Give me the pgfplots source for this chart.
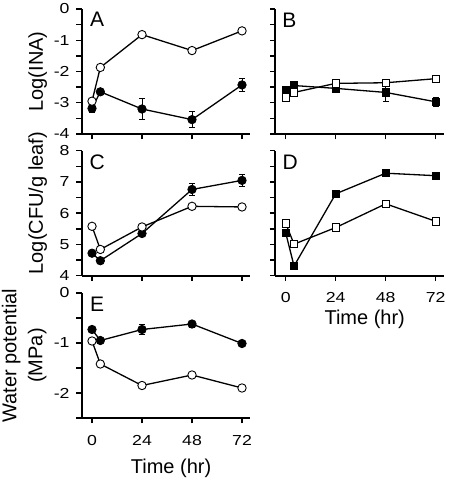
\documentclass[border=0pt]{standalone}
\usepackage{fontspec}
\setmainfont{Liberation Sans}
\newfontfamily\tickfont[FakeStretch=1.22]{Liberation Sans}
\usepackage{pgfplots}
\pgfplotsset{compat=1.18}
\tikzset{letter/.style={font=\fontsize{21}{24}\selectfont, anchor=center}}
\pgfplotsset{
  panel/.style={
    scale only axis, width=168.75pt, height=125pt,
    xmin=-5, xmax=76, enlargelimits=false,
    axis x line*=bottom, axis y line*=left,
    axis line style={line width=1.9pt},
    tick align=outside,
    every tick/.style={line width=1.4pt, black},
    major tick length=5.5pt, minor tick length=5.5pt,
    xtick={0,24,48,72},
    /pgf/number format/assume math mode=true,
    yticklabel style={font=\tickfont\fontsize{14.5}{17}\selectfont, xshift=-3pt},
    xticklabel style={font=\tickfont\fontsize{14.5}{17}\selectfont, yshift=-8pt},
    label style={font=\fontsize{20}{26}\selectfont},
    clip=false,
  },
  filled/.style={black, line width=1.3pt, mark=*, mark size=4.2pt, mark options={fill=black, line width=0.8pt},
    error bars/.cd, y dir=both, y explicit,
    error bar style={line width=0.7pt},
    error mark options={rotate=90, mark size=3pt, line width=0.7pt}},
  opened/.style={black, line width=1.3pt, mark=*, mark size=4.2pt, mark options={fill=white, line width=0.9pt}},
  filledsq/.style={black, line width=1.3pt, mark=square*, mark size=3.7pt, mark options={fill=black, line width=0.8pt},
    error bars/.cd, y dir=both, y explicit,
    error bar style={line width=0.7pt},
    error mark options={rotate=90, mark size=3pt, line width=0.7pt}},
  openedsq/.style={black, line width=1.3pt, mark=square*, mark size=3.7pt, mark options={fill=white, line width=0.9pt}},
}
\begin{document}
\begin{tikzpicture}[x=1pt,y=1pt]
\path[use as bounding box] (0,0) rectangle (449,480);
% A
\begin{axis}[panel, at={(81.6pt,346pt)}, anchor=south west,
  ymin=-4, ymax=0, ytick={-4,-3,-2,-1,0}, minor y tick num=1, xticklabels={},
  ylabel={Log(INA)}, ylabel style={at={(axis description cs:-0.26,0.5)}, anchor=center}]
\addplot[filled] table[x=x,y=y,y error=e] {
x y e
0 -3.18 0.12
4 -2.65 0
24 -3.20 0.33
48 -3.54 0.25
72 -2.43 0.20
};
\addplot[opened] table[x=x,y=y] {
x y
0 -2.95
4 -1.87
24 -0.82
48 -1.33
72 -0.70
};
\node[letter] at (axis description cs:0.092,0.92) {A};
\end{axis}
% B
\begin{axis}[panel, at={(275.3pt,346pt)}, anchor=south west,
  ymin=-4, ymax=0, ytick={-4,-3,-2,-1,0}, minor y tick num=1, xticklabels={}, yticklabels={}]
\addplot[filledsq] table[x=x,y=y,y error=e] {
x y e
0 -2.61 0.08
4 -2.45 0
24 -2.54 0.10
48 -2.67 0.28
72 -2.97 0.15
};
\addplot[openedsq] table[x=x,y=y] {
x y
0 -2.83
4 -2.67
24 -2.38
48 -2.36
72 -2.23
};
\node[letter] at (axis description cs:0.084,0.91) {B};
\end{axis}
% C
\begin{axis}[panel, at={(81.6pt,204.3pt)}, anchor=south west,
  ymin=4, ymax=8, ytick={4,5,6,7,8}, minor y tick num=1, xticklabels={},
  ylabel={Log(CFU/g leaf)}, ylabel style={at={(axis description cs:-0.26,0.58)}, anchor=center}]
\addplot[filled] table[x=x,y=y,y error=e] {
x y e
0 4.72 0
4 4.48 0
24 5.35 0
48 6.76 0.2
72 7.05 0.2
};
\addplot[opened] table[x=x,y=y] {
x y
0 5.58
4 4.84
24 5.56
48 6.22
72 6.20
};
\node[letter] at (axis description cs:0.092,0.905) {C};
\end{axis}
% D
\begin{axis}[panel, at={(275.3pt,204.3pt)}, anchor=south west,
  ymin=4, ymax=8, ytick={4,5,6,7,8}, minor y tick num=1, yticklabels={},
  xlabel={Time (hr)}, xlabel style={at={(axis description cs:0.53,-0.35)}, anchor=center}]
\addplot[filledsq] table[x=x,y=y,y error=e] {
x y e
0 5.37 0
4 4.31 0
24 6.62 0
48 7.28 0
72 7.20 0
};
\addplot[openedsq] table[x=x,y=y] {
x y
0 5.67
4 5.01
24 5.54
48 6.30
72 5.74
};
\node[letter] at (axis description cs:0.088,0.905) {D};
\end{axis}
% E
\begin{axis}[panel, at={(81.6pt,62pt)}, anchor=south west,
  ymin=-2.5, ymax=0, ytick={-2,-1,0}, minor ytick={-2.5,-1.5,-0.5},
  ylabel={Water potential\\(MPa)}, ylabel style={align=center, at={(axis description cs:-0.34,0.5)}, anchor=center},
  xlabel={Time (hr)}, xlabel style={at={(axis description cs:0.53,-0.40)}, anchor=center}]
\addplot[filled] table[x=x,y=y,y error=e] {
x y e
0 -0.73 0
4 -0.95 0
24 -0.73 0.10
48 -0.62 0.06
72 -1.01 0
};
\addplot[opened] table[x=x,y=y] {
x y
0 -0.96
4 -1.42
24 -1.85
48 -1.64
72 -1.90
};
\node[letter] at (axis description cs:0.092,0.91) {E};
\end{axis}
\end{tikzpicture}
\end{document}
